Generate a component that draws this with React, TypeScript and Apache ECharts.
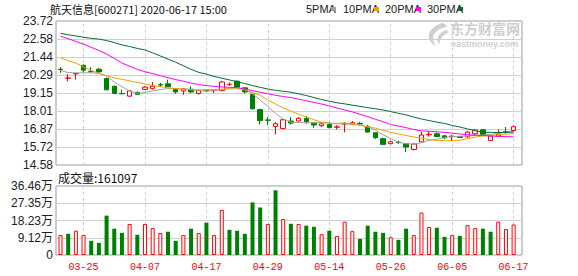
import React, { useEffect, useRef } from "react";
import * as echarts from "echarts";

// ---------------- data ----------------
const dates = [
  "03-20", "03-23", "03-24", "03-25", "03-26", "03-27", "03-30", "03-31",
  "04-01", "04-02", "04-03", "04-07", "04-08", "04-09", "04-10", "04-13", "04-14", "04-15", "04-16", "04-17",
  "04-20", "04-21", "04-22", "04-23", "04-24", "04-27", "04-28", "04-29", "04-30",
  "05-06", "05-07", "05-08", "05-11", "05-12", "05-13", "05-14", "05-15", "05-18", "05-19", "05-20", "05-21", "05-22",
  "05-25", "05-26", "05-27", "05-28", "05-29",
  "06-01", "06-02", "06-03", "06-04", "06-05", "06-08", "06-09", "06-10", "06-11", "06-12", "06-15", "06-16", "06-17",
];

const opens = [
  20.66, 20.09, 20.37, 20.91, 20.52, 20.66, 20.07, 19.58, 19.12, 18.95,
  19.2, 19.38, 19.42, 19.68, 19.73, 19.41, 19.28, 19.39, 19.12, 19.33,
  19.3, 19.3, 19.68, 19.9, 19.48, 19.05, 18.1, 17.44, 17.03, 16.9,
  17.37, 17.37, 17.54, 17.25, 17.08, 17.15, 16.98, 17.18, 17.16, 17.22,
  17.03, 16.63, 16.25, 15.93, 16.03, 15.93, 15.57, 16.04, 16.5, 16.56,
  16.43, 16.38, 16.38, 16.37, 16.56, 16.81, 16.14, 16.42, 16.69, 16.77,
];
const closes = [
  20.64, 20.1, 20.38, 20.6, 20.5, 20.49, 19.35, 19.12, 19.1, 19.29,
  19.07, 19.52, 19.58, 19.66, 19.54, 19.22, 19.41, 19.22, 19.31, 19.28,
  19.32, 19.85, 19.7, 19.52, 19.22, 18.15, 17.4, 17.42, 17.2, 17.45,
  17.24, 17.54, 17.33, 17.12, 17.2, 16.95, 17.0, 17.21, 17.26, 17.19,
  16.67, 16.31, 15.89, 16.05, 16.0, 15.72, 15.91, 16.48, 16.53, 16.39,
  16.31, 16.41, 16.33, 16.67, 16.8, 16.52, 16.42, 16.56, 16.66, 17.01,
];
const lows = [
  20.43, 19.88, 20.0, 20.45, 20.43, 20.4, 19.33, 19.07, 19.1, 18.9,
  19.03, 19.35, 19.37, 19.54, 19.52, 19.1, 19.03, 19.13, 19.05, 19.27,
  19.15, 19.26, 19.61, 19.48, 19.12, 18.1, 17.15, 17.11, 16.52, 16.85,
  17.15, 17.35, 17.2, 16.94, 16.98, 16.92, 16.84, 16.65, 17.11, 17.08,
  16.64, 16.24, 15.85, 15.92, 15.92, 15.4, 15.5, 16.0, 16.37, 16.35,
  16.22, 16.1, 16.3, 16.31, 16.47, 16.5, 16.1, 16.37, 16.56, 16.7,
];
const highs = [
  20.79, 20.34, 20.4, 20.96, 20.79, 20.74, 20.12, 19.6, 19.37, 19.31,
  19.22, 19.58, 19.84, 19.79, 20.0, 19.43, 19.47, 19.58, 19.33, 19.35,
  19.34, 19.92, 19.82, 19.95, 19.5, 19.12, 18.15, 17.62, 17.3, 17.55,
  17.62, 17.62, 17.68, 17.28, 17.3, 17.28, 17.11, 17.3, 17.36, 17.3,
  17.11, 16.65, 16.31, 16.12, 16.12, 15.95, 15.93, 16.7, 16.74, 16.65,
  16.47, 16.48, 16.4, 16.74, 16.84, 16.84, 16.45, 16.84, 16.99, 17.1,
];

// volume in 万 (10k lots)
const volumes = [
  10.5, 11.2, 12.8, 10.5, 7.5, 6.4, 20.8, 13.9, 11.7, 16.4,
  10.7, 16.4, 14.2, 11.6, 12.3, 7.5, 10.5, 13.9, 11.6, 17.1,
  10.5, 23.8, 13.3, 12.8, 11.2, 27.8, 25.1, 16.4, 34.2, 19.0,
  16.5, 16.4, 15.5, 14.9, 11.0, 12.8, 10.0, 17.6, 12.6, 8.5,
  15.5, 12.3, 11.7, 9.4, 8.0, 13.9, 10.5, 22.4, 14.8, 14.4,
  9.6, 10.5, 10.1, 15.8, 14.2, 13.9, 12.3, 17.6, 13.7, 16.11,
];
const firstDayUp = true;

const ma5 = [
  20.57, 20.45, 20.43, 20.43, 20.43, 20.4, 20.22, 19.85, 19.55, 19.28,
  19.14, 19.18, 19.28, 19.37, 19.43, 19.42, 19.41, 19.38, 19.3, 19.27,
  19.3, 19.36, 19.45, 19.5, 19.4, 19.1, 18.7, 18.3, 17.85, 17.5,
  17.3, 17.27, 17.26, 17.26, 17.26, 17.25, 17.2, 17.18, 17.16, 17.14,
  17.0, 16.8, 16.5, 16.25, 16.02, 15.93, 15.9, 16.0, 16.15, 16.22,
  16.32, 16.38, 16.4, 16.43, 16.46, 16.48, 16.52, 16.6, 16.66, 16.73,
];
const ma10 = [
  21.38, 21.2, 21.05, 20.8, 20.58, 20.4, 20.25, 20.1, 20.02, 19.92,
  19.82, 19.72, 19.62, 19.55, 19.48, 19.43, 19.4, 19.36, 19.35, 19.36,
  19.37, 19.39, 19.41, 19.42, 19.35, 19.18, 19.0, 18.7, 18.45, 18.2,
  18.0, 17.8, 17.62, 17.45, 17.3, 17.22, 17.22, 17.25, 17.18, 17.1,
  17.0, 16.92, 16.78, 16.65, 16.55, 16.45, 16.36, 16.28, 16.2, 16.14,
  16.12, 16.12, 16.15, 16.25, 16.35, 16.42, 16.46, 16.5, 16.54, 16.57,
];
const ma20 = [
  22.75, 22.6, 22.42, 22.25, 22.05, 21.85, 21.62, 21.35, 21.05, 20.85,
  20.65, 20.5, 20.38, 20.25, 20.12, 20.0, 19.9, 19.78, 19.68, 19.62,
  19.57, 19.53, 19.51, 19.49, 19.4, 19.3, 19.2, 19.1, 19.0, 18.93,
  18.86, 18.76, 18.66, 18.55, 18.45, 18.33, 18.2, 18.07, 17.95, 17.8,
  17.65, 17.48, 17.33, 17.15, 17.05, 16.95, 16.83, 16.75, 16.72, 16.69,
  16.65, 16.6, 16.55, 16.5, 16.47, 16.45, 16.42, 16.4, 16.38, 16.37,
];
const ma30 = [
  22.94, 22.85, 22.77, 22.69, 22.62, 22.57, 22.48, 22.35, 22.2, 22.1,
  21.98, 21.88, 21.7, 21.5, 21.3, 21.1, 20.88, 20.65, 20.46, 20.35,
  20.2, 20.09, 19.98, 19.87, 19.75, 19.62, 19.51, 19.4, 19.32, 19.26,
  19.2, 19.1, 18.99, 18.86, 18.74, 18.63, 18.53, 18.46, 18.38, 18.3,
  18.22, 18.15, 18.07, 17.97, 17.86, 17.76, 17.62, 17.5, 17.4, 17.3,
  17.22, 17.09, 16.99, 16.87, 16.75, 16.67, 16.65, 16.64, 16.65, 16.67,
];

const priceTicks = ["14.58", "15.72", "16.87", "18.01", "19.15", "20.29", "21.44", "22.58", "23.72"];
const volTicks = ["0", "9.12万", "18.23万", "27.35万", "36.46万"];
const xTickLabels = ["03-25", "04-07", "04-17", "04-29", "05-14", "05-26", "06-05", "06-17"];
const priceMin = 14.58;
const priceMax = 23.72;
const volMax = 36.46;
const lastVolume = 161097;
const stockTitle = "航天信息[600271] 2020-06-17 15:00";
const maNames = ["5PMA", "10PMA", "20PMA", "30PMA"];

// ---------------- styles ----------------
const UP = "#ff0000";
const DOWN = "#008000";
const maColors = ["#a0a0a0", "#f5a000", "#ff00ff", "#006e36"];
const GRID_LINE = "#d0d0d0";
const FRAME = "#999999";
const LABEL_FONT = "'Liberation Sans', 'Noto Sans CJK SC', sans-serif";
const CJK_FONT = "'Noto Sans CJK SC', 'Liberation Sans', sans-serif";

let logoRegistered = false;
function registerLogo() {
  if (logoRegistered) return;
  logoRegistered = true;
  const d =
    "M16 0 C8 2 2 8 2 14 C2 19 6 23 10 24 C6 20 5 15 8 11 C11 7 16 5 21 4 C20 2 18 0 16 0 Z " +
    "M21 7 C15 9 11 13 11 18 C11 20 12 22 13 23 C13 18 16 13 22 10 Z";
  echarts.graphic.registerShape("emLogo", echarts.graphic.extendPath(d, {}));
}

function buildOption() {
  const ohlc = dates.map((_, i) => [opens[i], closes[i], lows[i], highs[i]]);
  const volData = volumes.map((v, i) => {
    const up = i === 0 ? firstDayUp : closes[i] >= closes[i - 1];
    return {
      value: v,
      itemStyle: up
        ? { color: "#ffffff", borderColor: UP, borderWidth: 1 }
        : { color: DOWN, borderColor: DOWN, borderWidth: 0 },
    };
  });
  const markLines = {
    silent: true,
    symbol: ["none", "none"],
    z: 1,
    label: { show: false },
    lineStyle: { color: GRID_LINE, type: [3, 3], width: 1 },
    data: xTickLabels.map((d) => ({ xAxis: d })),
  };
  const mas = [ma5, ma10, ma20, ma30];

  const legendGraphics: any[] = [];
  const legendTextX = [306, 343, 385, 427];
  const legendBoxX = [331, 374, 416, 458];
  maNames.forEach((n, i) => {
    legendGraphics.push({
      type: "text",
      x: legendTextX[i],
      y: 9,
      style: {
        text: n,
        fill: "#222",
        font: "11px 'Liberation Sans Narrow', 'Liberation Sans', sans-serif",
        verticalAlign: "middle",
        align: "left",
      },
    });
    legendGraphics.push({
      type: "rect",
      shape: { x: legendBoxX[i], y: 7, width: 5, height: 4 },
      style: { fill: maColors[i] },
    });
  });

  return {
    animation: false,
    backgroundColor: "#ffffff",
    grid: [
      { left: 56, top: 21, width: 466, height: 144, show: true, borderColor: FRAME, borderWidth: 1 },
      { left: 56.66, top: 21, width: 460.8, height: 144 },
      { left: 56, top: 186, width: 466, height: 69, show: true, borderColor: FRAME, borderWidth: 1 },
      { left: 56.66, top: 186, width: 460.8, height: 69 },
    ],
    xAxis: [
      { gridIndex: 0, type: "value", min: 0, max: 1, show: false },
      {
        gridIndex: 1,
        type: "category",
        data: dates,
        axisLine: { show: false },
        axisTick: { show: false },
        axisLabel: { show: false },
        splitLine: { show: false },
      },
      { gridIndex: 2, type: "value", min: 0, max: 1, show: false },
      {
        gridIndex: 3,
        type: "category",
        data: dates,
        axisLine: { show: false },
        axisTick: { show: false },
        splitLine: { show: false },
        axisLabel: {
          interval: (_idx: number, val: string) => xTickLabels.includes(val),
          color: UP,
          fontFamily: "'Liberation Mono', monospace",
          fontSize: 10,
          margin: 7,
        },
      },
    ],
    yAxis: [
      {
        gridIndex: 0,
        type: "value",
        min: 0,
        max: 8,
        interval: 1,
        axisLine: { show: false },
        axisTick: { show: false },
        splitLine: { show: true, lineStyle: { color: GRID_LINE, width: 1 } },
        axisLabel: {
          formatter: (v: number) => priceTicks[Math.round(v)],
          color: "#222",
          fontFamily: LABEL_FONT,
          fontSize: 12,
          margin: 3,
        },
      },
      { gridIndex: 1, type: "value", min: priceMin, max: priceMax, show: false, splitLine: { show: false } },
      {
        gridIndex: 2,
        type: "value",
        min: 0,
        max: 4,
        interval: 1,
        axisLine: { show: false },
        axisTick: { show: false },
        splitLine: { show: true, lineStyle: { color: GRID_LINE, width: 1 } },
        axisLabel: {
          formatter: (v: number) => volTicks[Math.round(v)],
          color: "#222",
          fontFamily: LABEL_FONT,
          fontSize: 12,
          margin: 3,
        },
      },
      { gridIndex: 3, type: "value", min: 0, max: volMax, show: false, splitLine: { show: false } },
    ],
    series: [
      {
        type: "candlestick",
        xAxisIndex: 1,
        yAxisIndex: 1,
        data: ohlc,
        barWidth: 5,
        itemStyle: {
          color: "#ffffff",
          color0: DOWN,
          borderColor: UP,
          borderColor0: DOWN,
          borderWidth: 1,
        },
        markLine: markLines,
      },
      ...mas.map((arr, i) => ({
        name: maNames[i],
        type: "line",
        xAxisIndex: 1,
        yAxisIndex: 1,
        data: arr,
        symbol: "none",
        showSymbol: false,
        lineStyle: { color: maColors[i], width: 1 },
        z: 3,
      })),
      {
        type: "bar",
        xAxisIndex: 3,
        yAxisIndex: 3,
        data: volData,
        barWidth: 4,
        markLine: markLines,
      },
    ],
    graphic: [
      {
        type: "text",
        x: 50,
        y: 9,
        style: {
          text: stockTitle,
          fill: "#111",
          font: "11px " + CJK_FONT,
          verticalAlign: "middle",
          align: "left",
        },
      },
      ...legendGraphics,
      {
        type: "text",
        x: 58,
        y: 177,
        style: {
          text: "成交量:" + lastVolume,
          fill: "#111",
          font: "12px " + CJK_FONT,
          verticalAlign: "middle",
          align: "left",
        },
      },
      {
        type: "emLogo",
        x: 427,
        y: 23,
        scaleX: 0.95,
        scaleY: 0.95,
        style: { fill: "#cfcfcf" },
        silent: true,
      },
      {
        type: "text",
        x: 450,
        y: 28,
        style: {
          text: "东方财富网",
          fill: "#cfcfcf",
          font: "bold 14px " + CJK_FONT,
          verticalAlign: "middle",
          align: "left",
        },
        silent: true,
      },
      {
        type: "text",
        x: 451,
        y: 44,
        style: {
          text: "eastmoney.com",
          fill: "#cfcfcf",
          font: "bold 9px 'Liberation Sans', sans-serif",
          verticalAlign: "middle",
          align: "left",
        },
        silent: true,
      },
    ],
  };
}

export default function App() {
  const ref = useRef<HTMLDivElement>(null);
  useEffect(() => {
    if (!ref.current) return;
    registerLogo();
    const chart = echarts.init(ref.current, null, { renderer: "svg" });
    chart.setOption(buildOption() as any);
    return () => chart.dispose();
  }, []);
  return (
    <div
      ref={ref}
      style={{ position: "absolute", left: 0, top: 0, width: 578, height: 276, background: "#fff" }}
    />
  );
}
